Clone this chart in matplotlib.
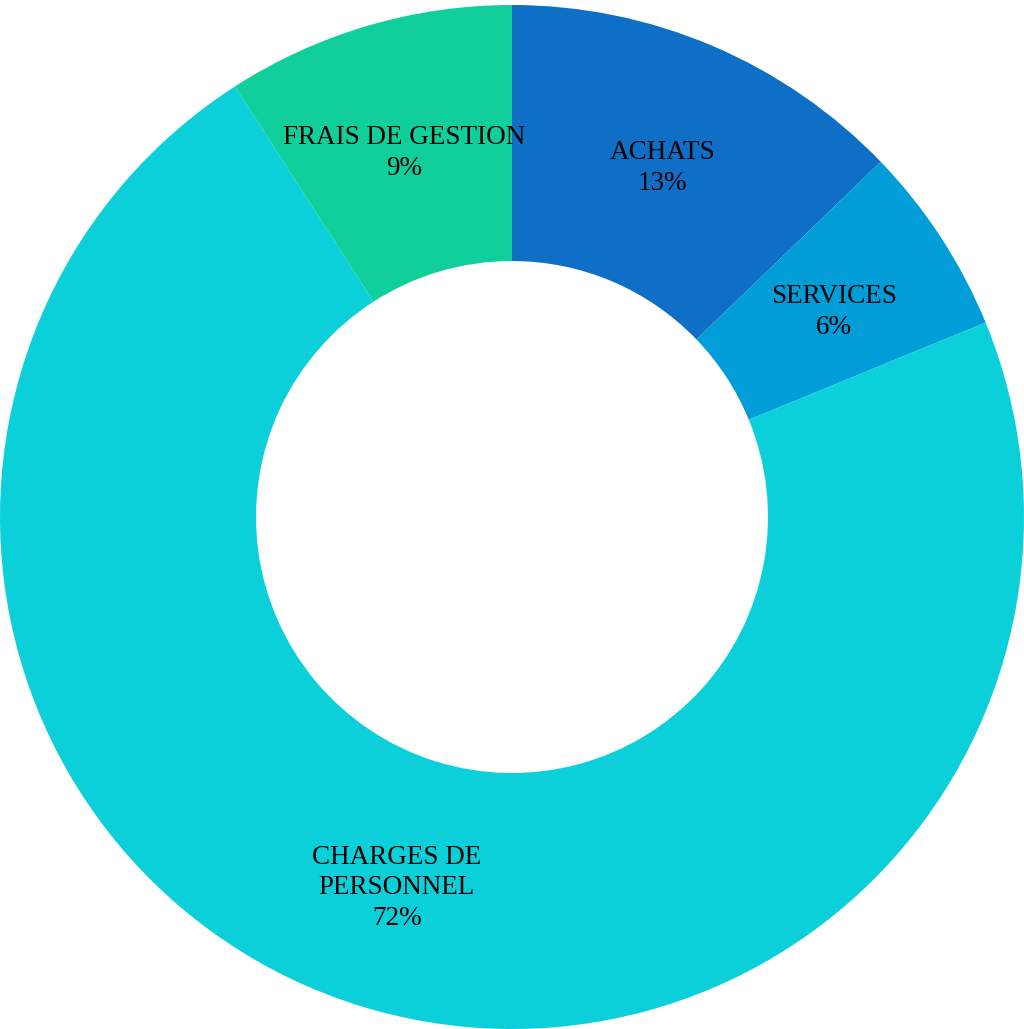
import numpy as np
import matplotlib
matplotlib.use("Agg")
import matplotlib.pyplot as plt

categories = ["ACHATS", "SERVICES", "CHARGES DE\nPERSONNEL", "FRAIS DE GESTION"]
values = [12.8, 6.0, 72.1, 9.1]
pct_labels = ["13%", "6%", "72%", "9%"]
colors = ["#0F6FC6", "#009DD9", "#0BD0D9", "#10CF9B"]

plt.rcParams['font.family'] = ['Liberation Serif', 'DejaVu Serif']

fig = plt.figure(figsize=(10.24, 10.29), dpi=100)
ax = fig.add_axes([0, 0, 1, 1024 / 1029])

wedges, _ = ax.pie(values, colors=colors, startangle=90, counterclock=False,
                   radius=1.0, wedgeprops=dict(width=0.5, linewidth=0))

total = sum(values)
start = 90.0
for v, cat, pct in zip(values, categories, pct_labels):
    mid = np.deg2rad(start - v / total * 360 / 2)
    start -= v / total * 360
    r = 0.75
    # nudge labels slightly down, like the original's text baseline
    ax.text(r * np.cos(mid), r * np.sin(mid) - 0.009, cat + "\n" + pct,
            ha="center", va="center", fontsize=19.5, color="black",
            linespacing=1.3)

ax.set_xlim(-1, 1)
ax.set_ylim(-1, 1)
ax.set_aspect("equal")
ax.axis("off")

fig.savefig("out.png", dpi=100, facecolor="white")
